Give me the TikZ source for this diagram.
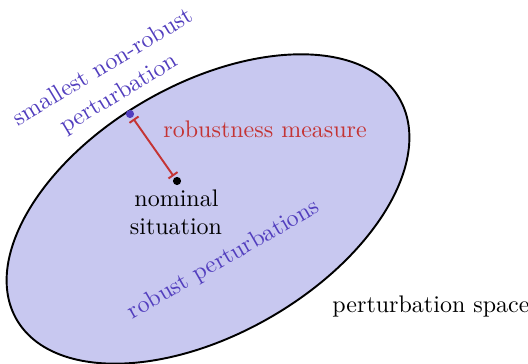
\documentclass[tikz,border=0pt]{standalone}
\usetikzlibrary{arrows.meta}
\definecolor{ellfill}{RGB}{200,200,240}
\definecolor{pblue}{RGB}{82,62,190}
\definecolor{mred}{RGB}{196,52,52}
\tikzset{
  lbl/.style={inner sep=0pt, font=\normalsize},
  dot/.style={circle, inner sep=0pt, minimum size=3.4pt},
}
\begin{document}
\begin{tikzpicture}[x=0.41667pt, y=0.41667pt]
\useasboundingbox (0,0) rectangle (528,364);
% perturbation space ellipse
\draw[line width=0.8pt, fill=ellfill, rotate around={30:(208,155)}] (208,155) ellipse [x radius=221, y radius=125];
% points
\node[dot, fill=pblue] (sp) at (130,250) {};
\node[dot, fill=black] (nom) at (177,183) {};
% robustness measure bar
\draw[mred, line width=0.8pt, {Bar[width=4.6pt]}-{Bar[width=4.6pt]}, shorten <=0.6pt, shorten >=0.6pt] (sp) -- (nom);
% labels
\node[lbl, text=mred, anchor=base west] (rm) at (163,226) {robustness measure};
\node[lbl, anchor=base] (n1) at (176.5,157) {nominal};
\node[lbl, anchor=base] (n2) at (176,129) {situation};
\node[lbl, anchor=base west] (ps) at (332,51) {perturbation space};
\node[lbl, text=pblue, align=center, rotate=31] (snr) at (111.5,283) {smallest non-robust\\[0.7pt]perturbation};
\node[lbl, text=pblue, anchor=base, rotate=30] (rp) at (227,99) {robust perturbations};
\end{tikzpicture}
\end{document}
